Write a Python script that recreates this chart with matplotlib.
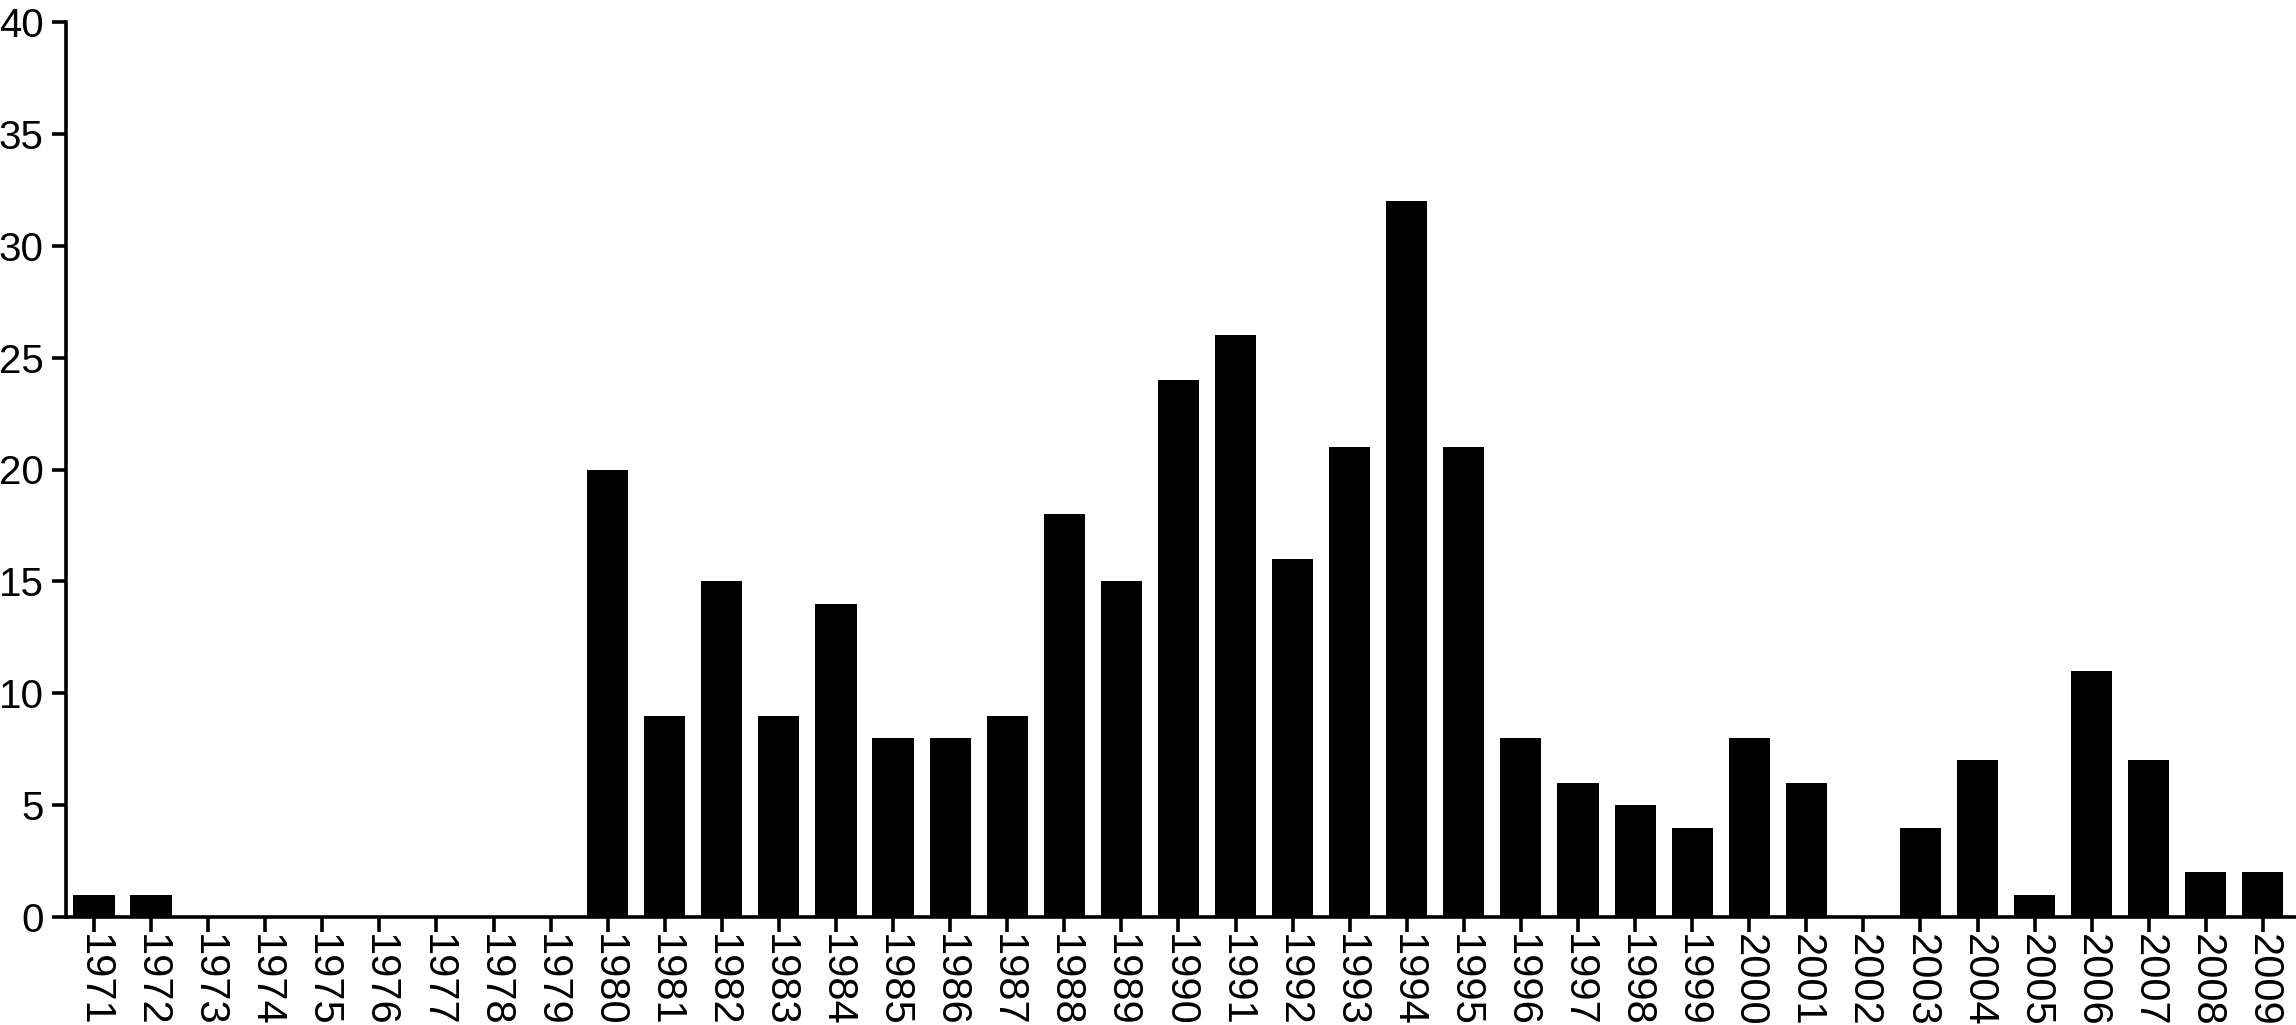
import matplotlib.pyplot as plt
import numpy as np

plt.rcParams['font.family'] = ['Liberation Sans', 'DejaVu Sans']

# years and counts
anios = [str(a) for a in range(1971, 2010)]
valores = [1, 1, 0, 0, 0, 0, 0, 0, 0, 20,
           9, 15, 9, 14, 8, 8, 9, 18, 15, 24,
           26, 16, 21, 32, 21, 8, 6, 5, 4, 8,
           6, 0, 4, 7, 1, 11, 7, 2, 2]
marcas_y = [0, 5, 10, 15, 20, 25, 30, 35, 40]

fig = plt.figure(figsize=(22.96, 10.25), dpi=100)
ax = fig.add_axes([66 / 2296, 1 - 917 / 1025, 1 - 66 / 2296, (917 - 22) / 1025])

x = np.arange(len(anios))
ax.bar(x, valores, width=0.72, color='black')

ax.set_xlim(-0.49, len(anios) - 0.42)
ax.set_ylim(0, 40)
ax.set_yticks(marcas_y)
ax.set_xticks(x)
ax.set_xticklabels(anios, rotation=-90, va='top', ha='center')

for lado in ['top', 'right']:
    ax.spines[lado].set_visible(False)
for lado in ['left', 'bottom']:
    ax.spines[lado].set_linewidth(2.6)

ax.tick_params(axis='y', length=10, width=2.6, labelsize=29, pad=6)
ax.tick_params(axis='x', length=11, width=2.6, labelsize=30, pad=1)

fig.savefig('out.png', dpi=100)
